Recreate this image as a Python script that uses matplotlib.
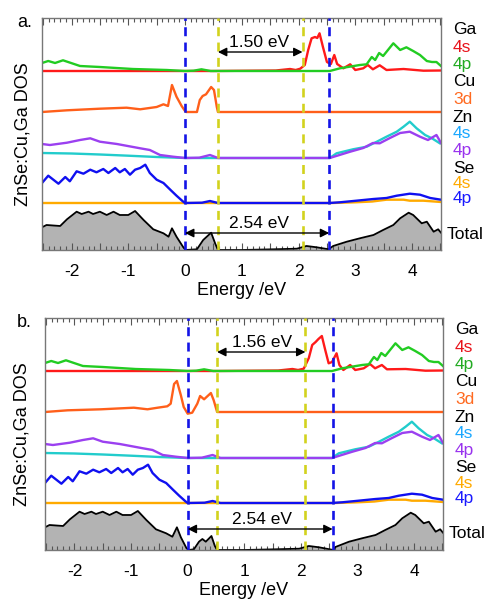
import numpy as np
import matplotlib
matplotlib.use('Agg')
import matplotlib.pyplot as plt
from matplotlib.ticker import MultipleLocator, FuncFormatter

plt.rcParams['font.family'] = ['Liberation Sans', 'DejaVu Sans']
plt.rcParams['axes.unicode_minus'] = False

# ── data (energy in eV, DOS in arbitrary units)
ga4p_e = [-2.52, -2.41, -2.29, -2.15, -1.85, -1.5, -0.92, -0.32, 0.0, 0.15, 0.29, 0.45,
          2.55, 2.73, 3.08, 3.2, 3.29, 3.35, 3.42, 3.49, 3.67, 3.79, 3.9, 4.02, 4.14, 4.26,
          4.35, 4.43, 4.51]
ga4p_v = [8, 10, 8, 10.7, 5, 4, 2, 1, 0, 0.3, 1.7, 0,
          0, 2.7, 6, 6.7, 14, 11, 18, 15, 27.7, 21, 23.7, 20, 16, 10,
          9, 9, 5]

ga4s_a_e = [-2.52, 0.5, 1.6, 1.85, 1.95, 2.03, 2.11, 2.17, 2.23, 2.29, 2.33, 2.37, 2.43, 2.5,
            2.57, 2.63, 2.68, 2.79, 2.91, 3.0, 3.14, 3.22, 3.31, 3.43, 3.55, 3.85, 4.2, 4.51]
ga4s_a_v = [0, 0, 0.5, 2, 1, 2.3, 6, 21, 32.7, 34, 33, 37.7, 24, 9,
            7, 16, 7, 2.7, 6.7, 1, 2.7, 6, 1.7, 5.7, 1, 2, 0.3, 0.5]
ga4s_b_e = [-2.52, 0.5, 1.6, 1.85, 1.95, 2.05, 2.14, 2.2, 2.26, 2.31, 2.37, 2.43, 2.49, 2.55,
            2.63, 2.68, 2.75, 2.87, 2.96, 3.11, 3.22, 3.31, 3.43, 3.52, 3.85, 4.2, 4.51]
ga4s_b_v = [0, 0, 0.5, 2, 1, 2.3, 13, 26, 29, 32, 35, 21, 7.7, 9,
            17.7, 6, 1, 6, 1, 2.7, 7, 2.7, 6, 1.7, 2, 0.3, 0.5]

cu3d_a_e = [-2.52, -2.08, -1.5, -1.03, -0.79, -0.5, -0.38, -0.3, -0.23, -0.15, -0.06, 0.0,
            0.02, 0.21, 0.26, 0.31, 0.37, 0.46, 0.51, 0.56, 0.58, 4.51]
cu3d_a_v = [0, 1.7, 3.3, 4.3, 2.7, 5, 7.7, 6, 27, 15.3, 6, 1,
            0, 0, 12, 16, 17.7, 25, 22, 5, 0, 0]
cu3d_b_e = [-2.52, -2.12, -1.53, -0.95, -0.71, -0.53, -0.36, -0.3, -0.24, -0.19, -0.12, -0.07,
            0.0, 0.08, 0.17, 0.22, 0.29, 0.41, 0.46, 0.52, 4.51]
cu3d_b_v = [0, 1.7, 2.7, 4.3, 2.7, 4.3, 5.7, 8.3, 28, 31, 16.7, 5,
            -1.7, -0.7, 8.3, 16, 12.7, 19, 11.7, 0, 0]

zn4p_e = [-2.52, -2.38, -2.08, -1.85, -1.67, -1.5, -1.2, -0.79, -0.62, -0.44, -0.21, 0.0,
          0.25, 0.44, 0.58, 2.55, 2.91, 3.14, 3.31, 3.43, 3.61, 3.79, 3.96, 4.14, 4.28, 4.43, 4.51]
zn4p_v = [14, 13, 15.3, 18, 19.7, 16.3, 14, 9.7, 8, 3, 1.3, 0,
          0.3, 3, 0, 0, 6.3, 10, 15, 14.7, 20, 25, 26.3, 21.3, 18, 23, 15]

zn4s_e = [-2.52, -2.0, -1.5, -1.0, -0.5, 0.0, 2.55, 2.67, 2.96, 3.2, 3.38, 3.55, 3.73, 3.85,
          3.96, 4.08, 4.23, 4.35, 4.49]
zn4s_v = [5, 4.5, 3.5, 2.3, 1, 0, 0, 4.7, 8.7, 11.3, 16.3, 21.3, 26.3, 31.3,
          36.3, 29.7, 23, 19.7, 14.7]

se4p_e = [-2.52, -2.41, -2.23, -2.11, -2.03, -1.91, -1.79, -1.67, -1.56, -1.44, -1.35, -1.23,
          -1.15, -1.06, -0.97, -0.88, -0.79, -0.7, -0.62, -0.5, -0.38, -0.26, -0.15, -0.04, 0.0,
          0.3, 0.44, 0.58, 2.54, 2.73, 3.02, 3.32, 3.55, 3.73, 3.96, 4.14, 4.32, 4.51]
se4p_v = [20, 27.3, 19.3, 26, 21.7, 31.7, 29.3, 33.3, 30.7, 34, 30, 35,
          30.7, 34, 28.3, 33.3, 35, 38.3, 30, 23.3, 20, 13.3, 7.3, 1.7, 0,
          0.3, 2, 0, 0, 0.7, 2.3, 4, 5, 7.3, 9.3, 8.3, 5, 3.3]

se4s_e = [-2.52, 2.6, 3.0, 3.3, 3.55, 3.85, 3.96, 4.2, 4.51]
se4s_v = [0, 0, 0.7, 1.5, 3.3, 3.3, 2.3, 2.3, 1]

tot_a_e = [-2.52, -2.44, -2.2, -2.08, -1.91, -1.82, -1.7, -1.62, -1.5, -1.38, -1.26, -1.15,
           -1.0, -0.88, -0.73, -0.56, -0.38, -0.29, -0.23, -0.15, -0.03, 0.01, 0.21, 0.32,
           0.46, 0.53, 0.58, 1.0, 1.56, 1.97, 2.14, 2.32, 2.53, 2.61, 2.85, 3.08, 3.32, 3.49,
           3.67, 3.79, 3.94, 4.02, 4.17, 4.26, 4.38, 4.46, 4.51]
tot_a_v = [22.7, 25, 24, 30.7, 38.3, 36, 38.3, 36, 38.3, 35, 38.3, 35,
           35, 39, 30, 20.7, 16.7, 13.3, 21.7, 13.3, 2.7, 0, 0.7, 10,
           17.3, 6.7, 0, 0, 0.7, 1.3, 4, 2.7, 0.7, 4, 8.3, 11.7, 15, 20,
           25, 31.7, 37.3, 35, 26.7, 28.3, 18.3, 20.7, 17.3]
tot_b_e = [-2.52, -2.44, -2.2, -2.08, -1.91, -1.82, -1.7, -1.62, -1.5, -1.38, -1.26, -1.15,
           -1.0, -0.88, -0.73, -0.56, -0.38, -0.27, -0.19, -0.12, -0.02, 0.02, 0.11, 0.2,
           0.26, 0.32, 0.42, 0.48, 0.52, 1.0, 1.56, 1.97, 2.14, 2.32, 2.57, 2.61, 2.85, 3.08,
           3.32, 3.49, 3.67, 3.79, 3.94, 4.02, 4.17, 4.26, 4.38, 4.46, 4.51]
tot_b_v = [22.7, 25, 24, 30.7, 38.3, 36, 38.3, 36, 38.3, 35, 38.3, 35,
           35, 39, 30, 20.7, 16.7, 13.3, 22.7, 12.7, 1.7, 0, 0.7, 8.3,
           11, 8.3, 14, 4, 0, 0, 0.7, 1.3, 4, 2.7, 0, 3, 8.3, 11.7,
           15, 20, 25, 31.7, 37.3, 35, 26.7, 28.3, 18.3, 20.7, 17.3]

# gap markers: (VBM, CBM) blue, (defect top, defect CBM) yellow
blue_a = [0.0, 2.54]
yellow_a = [0.58, 2.07]
blue_b = [0.0, 2.56]
yellow_b = [0.52, 2.08]
gap_small = ['1.50 eV', '1.56 eV']
gap_big = ['2.54 eV', '2.54 eV']

labels = ['Ga', '4s', '4p', 'Cu', '3d', 'Zn', '4s', '4p', 'Se', '4s', '4p', 'Total']
label_cols = ['black', '#e8141c', '#22aa22', 'black', '#ff6a20', 'black', '#1aa8ff',
              '#9933ee', 'black', '#ffaa00', '#1a1aff', 'black']

# ── layout
OFF = {'tot': 0, 'se': 47, 'zn': 92, 'cu': 138, 'ga': 179}
YTOP = 232
label_y = [12, 29, 47, 64, 81, 100, 115, 132, 150, 165, 180, 216]  # px below axes top

C_GA4S = '#ff1a1a'
C_GA4P = '#22cc22'
C_CU = '#ff5f1a'
C_ZN4S = '#22cccc'
C_ZN4P = '#9b40f0'
C_SE4S = '#ffaa00'
C_SE4P = '#1010f0'
LW = 1.7

fig = plt.figure(figsize=(4.89, 6), dpi=100)
ax_a = fig.add_axes([42 / 489, 1 - 250 / 600, 399 / 489, 232 / 600])
ax_b = fig.add_axes([45 / 489, 1 - 550 / 600, 398 / 489, 232 / 600])


def draw_panel(ax, ga4s, cu3d, tot, blue, yellow, t_small, t_big, big_y):
    e, v = tot
    ax.fill_between(e, np.array(v) + OFF['tot'], OFF['tot'], color='#b3b3b3', lw=0)
    ax.plot(e, np.array(v) + OFF['tot'], color='black', lw=1.3)

    ax.plot(se4s_e, np.array(se4s_v) + OFF['se'], color=C_SE4S, lw=LW)
    ax.plot(se4p_e, np.array(se4p_v) + OFF['se'], color=C_SE4P, lw=LW)
    ax.plot(zn4s_e, np.array(zn4s_v) + OFF['zn'], color=C_ZN4S, lw=LW)
    ax.plot(zn4p_e, np.array(zn4p_v) + OFF['zn'], color=C_ZN4P, lw=LW)
    ax.plot(cu3d[0], np.array(cu3d[1]) + OFF['cu'], color=C_CU, lw=LW)
    ax.plot(ga4s[0], np.array(ga4s[1]) + OFF['ga'], color=C_GA4S, lw=LW)
    ax.plot(ga4p_e, np.array(ga4p_v) + OFF['ga'], color=C_GA4P, lw=LW)

    for x in blue:
        ax.axvline(x, color='#1414e6', lw=1.9, ls=(0, (3.4, 2.4)), zorder=4)
    for x in yellow:
        ax.axvline(x, color='#d2d21e', lw=1.9, ls=(0, (3.4, 2.4)), zorder=4)

    arrow = dict(arrowstyle='<|-|>', color='black', lw=1.0, mutation_scale=13,
                 shrinkA=0, shrinkB=0)
    ax.annotate('', xy=(yellow[0], 198), xytext=(yellow[1], 198), arrowprops=arrow, zorder=5)
    ax.text(1.31, 203, t_small, ha='center', va='baseline', fontsize=12.5)
    ax.annotate('', xy=(blue[0], big_y), xytext=(blue[1], big_y), arrowprops=arrow, zorder=5)
    ax.text(1.31, big_y + 5, t_big, ha='center', va='baseline', fontsize=12.5)

    ax.set_xlim(-2.52, 4.51)
    ax.set_ylim(0, YTOP)
    ax.set_yticks([])
    ax.xaxis.set_major_locator(MultipleLocator(0.5))
    ax.xaxis.set_minor_locator(MultipleLocator(0.1))
    ax.xaxis.set_major_formatter(FuncFormatter(
        lambda x, p: '%d' % round(x) if abs(x - round(x)) < 1e-6 else ''))
    ax.tick_params(axis='x', which='both', direction='in', top=True, bottom=True,
                   color='#555555', labelsize=12.5, pad=10)
    ax.tick_params(axis='x', which='major', length=5, width=0.8)
    ax.tick_params(axis='x', which='minor', length=3, width=0.8)
    for s in ax.spines.values():
        s.set_color('#777777')
        s.set_linewidth(1.0)
    ax.set_xlabel('Energy /eV', fontsize=13, labelpad=2)

    for lab, col, d in zip(labels, label_cols, label_y):
        x = 1.015 if lab == 'Total' else 1.03
        ax.text(x, 1 - d / YTOP, lab, color=col, fontsize=12.5, ha='left', va='center',
                transform=ax.transAxes)


draw_panel(ax_a, (ga4s_a_e, ga4s_a_v), (cu3d_a_e, cu3d_a_v), (tot_a_e, tot_a_v),
           blue_a, yellow_a, gap_small[0], gap_big[0], 17)
draw_panel(ax_b, (ga4s_b_e, ga4s_b_v), (cu3d_b_e, cu3d_b_v), (tot_b_e, tot_b_v),
           blue_b, yellow_b, gap_small[1], gap_big[1], 21)

fig.text(17 / 489, 1 - 27 / 600, 'a.', fontsize=13, ha='left', va='baseline')
fig.text(17 / 489, 1 - 327 / 600, 'b.', fontsize=13, ha='left', va='baseline')
fig.text(23 / 489, 1 - 134 / 600, 'ZnSe:Cu,Ga DOS', rotation=90, fontsize=13,
         ha='center', va='center')
fig.text(22 / 489, 1 - 434 / 600, 'ZnSe:Cu,Ga DOS', rotation=90, fontsize=13,
         ha='center', va='center')

plt.savefig('out.png', dpi=100)
